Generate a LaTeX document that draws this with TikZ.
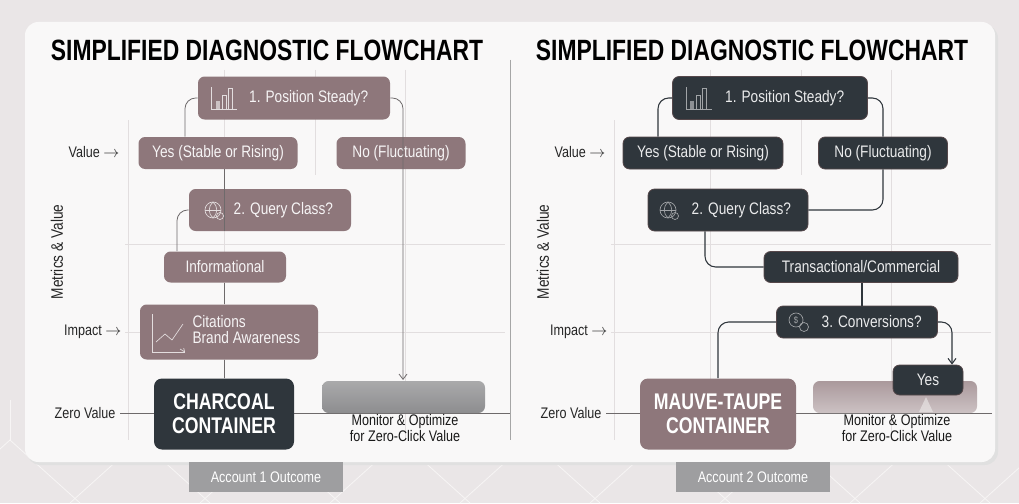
\documentclass[tikz,border=0pt]{standalone}
\usepackage{fontspec}
\setmainfont{Liberation Sans}[FakeStretch=0.82]
\newfontfamily\titlefont{Liberation Sans}[FakeStretch=0.78]
\usetikzlibrary{arrows.meta}
\definecolor{bg}{HTML}{EAE6E7}
\definecolor{card}{HTML}{F9F8F8}
\definecolor{mauve}{HTML}{8E777B}
\definecolor{charc}{HTML}{2F363C}
\definecolor{grid}{HTML}{E2DEDF}
\definecolor{lne}{HTML}{6E6A6B}
\definecolor{gbox}{HTML}{8D8D8F}
\begin{document}
\begin{tikzpicture}[x=0.75pt,y=-0.75pt,
  mb/.style={draw=none,fill=mauve,rounded corners=5pt,text=white!92!mauve,font=\fontsize{12.5}{14}\selectfont,inner sep=0pt},
  db/.style={draw=mauve!60!black,line width=0.6pt,fill=charc,rounded corners=5pt,text=white!90!charc,font=\fontsize{12.5}{14}\selectfont,inner sep=0pt},
  con/.style={draw=lne,line width=0.6pt,rounded corners=8pt},
  dcon/.style={draw=charc,line width=0.8pt,rounded corners=8pt},
  arr/.style={-{Straight Barb[length=4pt,width=6pt]}},
  ax/.style={font=\fontsize{11.5}{13}\selectfont,text=black!85},
  gl/.style={draw=grid,line width=0.6pt},
  big/.style={rounded corners=6pt,font=\titlefont\bfseries\fontsize{17}{18}\selectfont,align=center,inner sep=0pt},
  outc/.style={fill=gbox!85,text=white!90,font=\fontsize{11.5}{13}\selectfont,inner sep=0pt},
  mon/.style={font=\fontsize{11.5}{12}\selectfont,align=center,text=black!90}
]
\useasboundingbox (0,0) rectangle (1019,503);
\fill[bg] (0,0) rectangle (1019,503);
\foreach \i in {0,1,...,8}{
  \draw[white!60!bg,line width=0.6pt] (\i*130-60,503) -- (\i*130+10,440) -- (\i*130+80,503);
  \draw[white!60!bg,line width=0.6pt] (\i*130+10,440) -- (\i*130+10,400);}
\fill[black!12,rounded corners=10pt] (27,25) rectangle (998,465);
\fill[card,rounded corners=10pt] (25,22) rectangle (995,462);
% outcome tags
\node[outc,minimum width=154*0.75pt,minimum height=30*0.75pt] (o1) at (266,477) {Account 1 Outcome};
\node[outc,minimum width=154*0.75pt,minimum height=30*0.75pt] (o2) at (753,477) {Account 2 Outcome};
% titles
\node[font=\titlefont\bfseries\fontsize{22}{24}\selectfont] (t1) at (267,50) {SIMPLIFIED DIAGNOSTIC FLOWCHART};
\node[font=\titlefont\bfseries\fontsize{22}{24}\selectfont] (t2) at (752,50) {SIMPLIFIED DIAGNOSTIC FLOWCHART};
\draw[black!35,line width=0.6pt] (510,60) -- (510,440);
% grids
\foreach \o in {0,486}{
 \draw[gl] (128+\o,120) -- (128+\o,440);
 \draw[gl] (224+\o,70) -- (224+\o,440);
 \draw[gl] (315+\o,70) -- (315+\o,175);
 \draw[gl] (405+\o,70) -- (405+\o,440);
 \draw[gl] (125+\o,244) -- (505+\o,244);
 \draw[gl] (125+\o,332) -- (505+\o,332);
}
% axis labels
\foreach \o/\s in {0/L,486/R}{
 \node[ax,anchor=east] (val\s) at (124+\o,152) {Value $\rightarrow$};
 \node[ax,anchor=east] (imp\s) at (126+\o,332) {Impact $\rightarrow$};
 \node[ax,anchor=east] (zer\s) at (120+\o,413) {Zero Value};
 \node[ax,rotate=90,font=\fontsize{12.5}{14}\selectfont] (met\s) at (57+\o,252) {Metrics \& Value};
}
\draw[lne,line width=0.6pt] (zerL.east) -- (510,413);
\draw[lne,line width=0.6pt] (zerR.east) -- (992,413);
%%%%%% LEFT
\node[mb,minimum width=192*0.75pt,minimum height=43*0.75pt] (p1) at (294,98) {\hspace{22pt}1. Position Steady?};
\node[mb,minimum width=159*0.75pt,minimum height=32*0.75pt] (y1) at (218,153) {Yes (Stable or Rising)};
\node[mb,minimum width=129*0.75pt,minimum height=32*0.75pt] (n1) at (401,153) {No (Fluctuating)};
\node[mb,minimum width=162*0.75pt,minimum height=42*0.75pt] (q1) at (270,210) {\hspace{20pt}2. Query Class?};
\node[mb,minimum width=122*0.75pt,minimum height=31*0.75pt] (i1) at (225,267) {Informational};
\node[mb,minimum width=178*0.75pt,minimum height=55*0.75pt,align=left] (c1) at (229,332) {\hspace{26pt}\begin{tabular}{@{}l@{}}Citations\\[-2pt]Brand Awareness\end{tabular}};
\node[big,fill=charc,text=white!88,minimum width=140*0.75pt,minimum height=71*0.75pt] (k1) at (224,414) {CHARCOAL\\CONTAINER};
\shade[top color=gbox!75,bottom color=gbox,rounded corners=5pt] (322,413) -- (322,381) -- (485,381) -- (485,413) -- cycle;
\coordinate (g1) at (403,380);
\node[mon] (m1) at (405,428) {Monitor \& Optimize\\for Zero-Click Value};
% icons left
\begin{scope}[white!75!mauve,line width=0.5pt]
 \draw (211,87) -- (211,109) -- (237,109);
 \fill[white!55!mauve] (216,101) rectangle (220,109);
 \draw (222,95) rectangle (226,109); \draw (228,88) rectangle (232,109);
 \draw (213,210) circle (8); \draw (205,210) -- (221,210); \draw (213,202) .. controls (208,206) and (208,214) .. (213,218);
 \draw (213,202) .. controls (218,206) and (218,214) .. (213,218);
 \draw (220,216) circle (3.5);
 \draw (152,314) -- (152,352) -- (185,352); \draw[-{Straight Barb[length=2pt]}] (180,349) -- (185,352);
 \draw (156,342) -- (165,334) -- (172,340) -- (183,324);
\end{scope}
% connectors left
\draw[con] (p1.west) -| (y1.north -| 185,0);
\draw[con,arr] (p1.east) -| (g1);
\draw[con] (y1.south -| 224,0) -- (q1.south -| 224,0);
\draw[con] (q1.west) -| (i1.north -| 177,0);
\draw[con] (i1.south -| 224,0) -- (c1.north -| 224,0);
\draw[con] (c1.south -| 224,0) -- (k1.north);
%%%%%% RIGHT
\node[db,minimum width=195*0.75pt,minimum height=43*0.75pt] (p2) at (770,98) {\hspace{22pt}1. Position Steady?};
\node[db,minimum width=160*0.75pt,minimum height=32*0.75pt] (y2) at (703,153) {Yes (Stable or Rising)};
\node[db,minimum width=129*0.75pt,minimum height=32*0.75pt] (n2) at (883,153) {No (Fluctuating)};
\node[db,minimum width=160*0.75pt,minimum height=42*0.75pt] (q2) at (728,210) {\hspace{20pt}2. Query Class?};
\node[db,minimum width=194*0.75pt,minimum height=31*0.75pt] (tr2) at (861,267) {Transactional/Commercial};
\node[db,minimum width=161*0.75pt,minimum height=32*0.75pt] (cv2) at (857,322) {\hspace{22pt}3. Conversions?};
\node[big,fill=mauve,text=white!92,minimum width=156*0.75pt,minimum height=71*0.75pt] (k2) at (718,414) {MAUVE-TAUPE\\CONTAINER};
\shade[top color=mauve!75,bottom color=mauve!45,rounded corners=5pt] (813,413) -- (813,381) -- (977,381) -- (977,413) -- cycle;
\node[db,minimum width=70*0.75pt,minimum height=30*0.75pt] (ys2) at (928,380) {Yes};
\fill[white!85!mauve,opacity=0.6] (926,397) -- (919,412) -- (933,412) -- cycle;
\node[mon] (m2) at (897,428) {Monitor \& Optimize\\for Zero-Click Value};
\begin{scope}[white!55!charc,line width=0.5pt]
 \draw (686,87) -- (686,109) -- (712,109);
 \fill[white!45!charc] (690,101) rectangle (694,109);
 \draw (696,95) rectangle (700,109); \draw (702,88) rectangle (706,109);
 \draw (668,210) circle (8); \draw (660,210) -- (676,210); \draw (668,202) .. controls (663,206) and (663,214) .. (668,218);
 \draw (668,202) .. controls (673,206) and (673,214) .. (668,218);
 \draw (675,216) circle (3.5);
 \draw (796,320) circle (7); \node[font=\fontsize{7}{8}\selectfont,text=white!55!charc] at (796,320) {\$};
 \draw (804,327) circle (4.5);
\end{scope}
\draw[dcon] (p2.west) -| (y2.north -| 658,0);
\draw[dcon] (p2.east) -| (n2.north);
\draw[dcon] (n2.south) |- (q2.east);
\draw[dcon] (q2.south -| 705,0) |- (tr2.west);
\draw[dcon] (tr2.south -| 862,0) -- (cv2.north -| 862,0);
\draw[dcon] (cv2.west) -| (k2.north);
\draw[dcon,arr] (cv2.east) -| (ys2.north -| 952,0);
\end{tikzpicture}
\end{document}
